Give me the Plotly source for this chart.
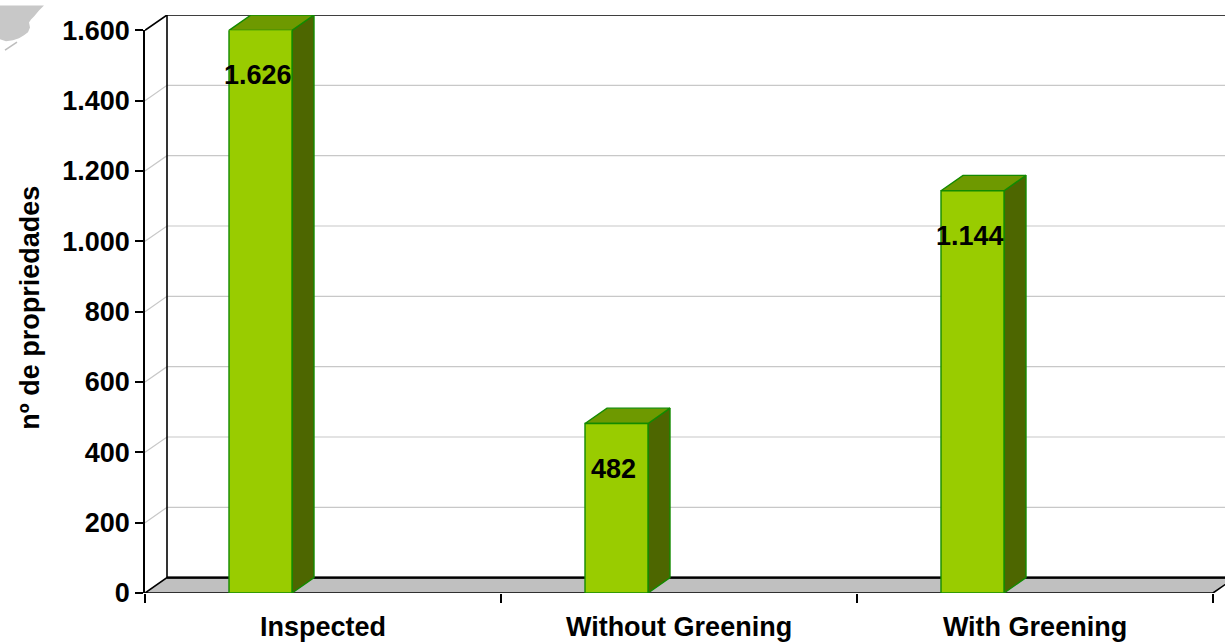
import numpy as np
import plotly.graph_objects as go

# ---- data -------------------------------------------------------------
categories = ["Inspected", "Without Greening", "With Greening"]
values = [1626, 482, 1144]
y_tick_values = [0, 200, 400, 600, 800, 1000, 1200, 1400, 1600]
y_title = "nº de propriedades"

# ---- geometry of the pseudo-3D frame ------------------------------------
W, H = 1225, 643
LEFT_PX, RIGHT_PX = 145, 1225          # plot area left/right
FLOOR_PX, TOP_AXIS_PX = 593, 25        # value 0 and value 1600 on the front axis
DEPTH_DX_PX, DEPTH_DY_PX = 22, 15.5    # depth offset of the back wall
CAT_PX = 356                           # width of one category slot
Y_MAX = 1600

px_per_unit = (FLOOR_PX - TOP_AXIS_PX) / Y_MAX
ddx = DEPTH_DX_PX / CAT_PX
ddy = DEPTH_DY_PX / px_per_unit
x_lo = -0.5
x_hi = x_lo + (RIGHT_PX - LEFT_PX) / CAT_PX
y_scene_top = Y_MAX + ddy
top_px = FLOOR_PX - y_scene_top * px_per_unit

BAR_W = 63 / CAT_PX
BAR_OFF = -94 / CAT_PX                 # bar left edge relative to category centre

FRONT = "#99CC00"
TOP = "#6E9900"
SIDE = "#4D6600"
EDGE = "#138A00"
FLOOR = "#C0C0C0"
GRID = "#C8C8C8"
FONT = "Liberation Sans, Arial, sans-serif"
FS = 27

fig = go.Figure()


def poly(xs, ys, fill, line, width=1.0):
    fig.add_trace(go.Scatter(
        x=list(xs) + [xs[0]], y=list(ys) + [ys[0]], mode="lines",
        fill="toself", fillcolor=fill, line=dict(color=line, width=width),
        hoverinfo="skip", showlegend=False, xaxis="x", yaxis="y"))


def seg(xs, ys, color, width):
    fig.add_trace(go.Scatter(
        x=xs, y=ys, mode="lines", line=dict(color=color, width=width),
        hoverinfo="skip", showlegend=False, xaxis="x", yaxis="y"))


x_back_end = 2.5 + ddx

# floor
poly([x_lo, x_lo + ddx, x_back_end, 2.5], [0, ddy, ddy, 0], FLOOR, "black", 1.6)

# gridlines on side and back wall
for v in y_tick_values[1:-1]:
    seg([x_lo, x_lo + ddx, x_back_end], [v, v + ddy, v + ddy], GRID, 1.2)

# wall frame
seg([x_lo, x_lo + ddx, x_back_end], [Y_MAX, Y_MAX + ddy, Y_MAX + ddy], "black", 1.6)
seg([x_lo + ddx, x_lo + ddx], [ddy, Y_MAX + ddy], "black", 1.6)
seg([x_lo + ddx, x_back_end], [ddy, ddy], "black", 2.2)

# side and top faces of each column (columns are clipped at the axis maximum)
shown = np.minimum(np.array(values, dtype=float), Y_MAX)
for i, h in enumerate(shown):
    xl = i + BAR_OFF
    xr = xl + BAR_W
    poly([xr, xr, xr + ddx, xr + ddx], [0, h, h + ddy, ddy], SIDE, EDGE, 1.4)
    poly([xl, xr, xr + ddx, xl + ddx], [h, h, h + ddy, h + ddy], TOP, EDGE, 1.4)

# front faces of the columns
fig.add_trace(go.Bar(
    x=categories, y=values, width=BAR_W, offset=BAR_OFF,
    marker=dict(color=FRONT, line=dict(color=EDGE, width=1.4)),
    hoverinfo="skip", showlegend=False, xaxis="x2", yaxis="y2"))

# value labels
for i, (v, h) in enumerate(zip(values, shown)):
    fig.add_annotation(
        x=i + BAR_OFF + BAR_W / 2 - 0.008, y=h, xref="x2", yref="y2",
        text=f"{v:,}".replace(",", "."), showarrow=False, yshift=-45,
        font=dict(family=FONT, size=FS, color="black", weight="bold"))

# axis title
fig.add_annotation(
    x=(30 - LEFT_PX) / (RIGHT_PX - LEFT_PX), y=(FLOOR_PX - 305) / (FLOOR_PX - top_px),
    xref="paper", yref="paper", text=y_title, textangle=-90, showarrow=False,
    xanchor="center", yanchor="middle",
    font=dict(family=FONT, size=FS, color="black", weight="bold"))


# small grey ornament in the upper-left corner
def to_paper(px, py):
    return (px - LEFT_PX) / (RIGHT_PX - LEFT_PX), (FLOOR_PX - py) / (FLOOR_PX - top_px)


blob = [(0, 0), (44, 0), (39, 5), (34, 11), (31, 14), (29, 17), (30, 22), (28, 27),
        (24, 30), (19, 33), (13, 35), (6, 36), (0, 34)]
pts = [to_paper(*p) for p in blob]
path = "M " + " L ".join(f"{a:.5f},{b:.5f}" for a, b in pts) + " Z"
fig.add_shape(type="path", path=path, xref="paper", yref="paper",
              fillcolor="#C8C8C8", line=dict(width=0), layer="below")
a0, b0 = to_paper(17, 37)
a1, b1 = to_paper(5, 45)
fig.add_shape(type="line", x0=a0, y0=b0, x1=a1, y1=b1, xref="paper", yref="paper",
              line=dict(color="#BDBDBD", width=1.5))

fig.update_layout(
    width=W, height=H,
    margin=dict(l=LEFT_PX, r=W - RIGHT_PX, t=top_px, b=H - FLOOR_PX),
    paper_bgcolor="white", plot_bgcolor="rgba(0,0,0,0)",
    separators=",.",
    xaxis=dict(domain=[0, 1], range=[x_lo, x_hi], visible=False, fixedrange=True),
    yaxis=dict(domain=[0, 1], range=[0, y_scene_top], visible=False, fixedrange=True),
    xaxis2=dict(domain=[0, 1], range=[x_lo, x_hi], anchor="y2", type="category",
                tickson="boundaries", ticks="outside", ticklen=9, tickwidth=1.5,
                tickcolor="black", showgrid=False, showline=False, zeroline=False,
                tickfont=dict(family=FONT, size=FS, color="black", weight="bold"),
                ticklabelstandoff=15),
    yaxis2=dict(domain=[0, (FLOOR_PX - TOP_AXIS_PX) / (FLOOR_PX - top_px)],
                range=[0, Y_MAX], anchor="x2", tickvals=y_tick_values,
                tickformat=",d", ticks="outside", ticklen=8, tickwidth=1.5,
                tickcolor="black", showline=True, linecolor="black", linewidth=1.6,
                showgrid=False, zeroline=False,
                tickfont=dict(family=FONT, size=FS, color="black", weight="bold")),
)

fig.write_html("out.html")
